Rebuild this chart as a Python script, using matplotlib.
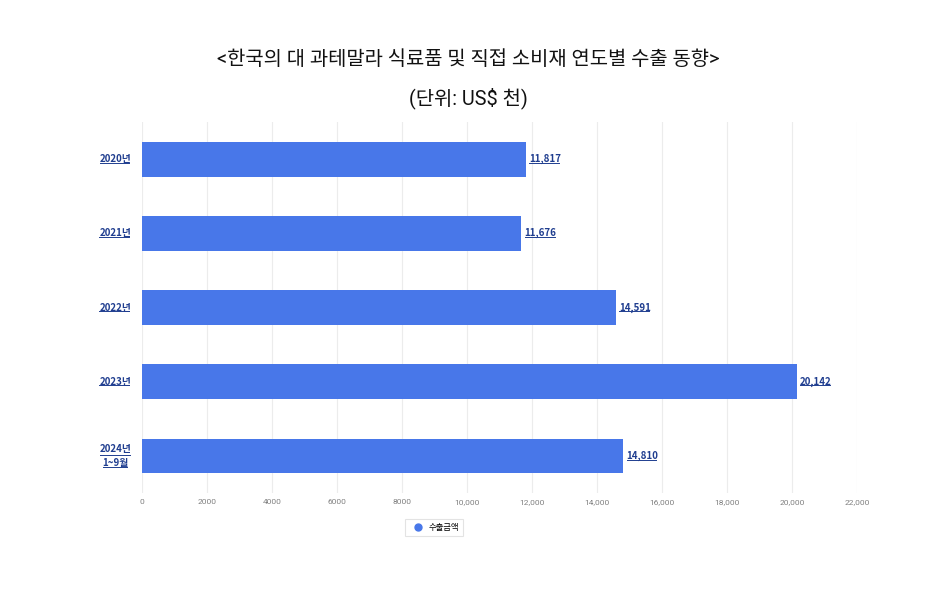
import numpy as np
import matplotlib
matplotlib.use('Agg')
import matplotlib.pyplot as plt
from matplotlib.lines import Line2D
from matplotlib.ticker import FuncFormatter

plt.rcParams['font.family'] = ['Noto Sans CJK KR', 'DejaVu Sans']

years = ['2020년', '2021년', '2022년', '2023년', '2024년\n1~9월']
exports = [11817, 11676, 14591, 20142, 14810]
ticks = np.arange(0, 22001, 2000)

bar_color = '#4877e9'
label_color = '#1f3d8f'

fig = plt.figure(figsize=(9.36, 5.92), dpi=100)
ax = fig.add_axes([0.1517, 0.167, 0.7639, 0.627])

y = np.arange(len(years))
bars = ax.barh(y, exports, height=0.47, color=bar_color, zorder=3, label='수출금액')

ax.set_xlim(0, 22000)
ax.set_ylim(len(years) - 0.5, -0.5)
ax.set_xticks(ticks)
ax.xaxis.set_major_formatter(FuncFormatter(lambda v, p: f'{int(v):,}' if v >= 10000 else f'{int(v)}'))
ax.tick_params(axis='x', length=0, labelsize=6, colors='#808080', pad=4)
for lab in ax.get_xticklabels():
    lab.set_family('Roboto')
ax.tick_params(axis='y', length=0)
ax.set_yticks(y)
ax.set_yticklabels([])
ax.grid(axis='x', color='#ececec', linewidth=0.8, zorder=0)
for s in ax.spines.values():
    s.set_visible(False)

texts = []
for yi, lab in zip(y, years):
    t = ax.text(-0.015, yi, lab, transform=ax.get_yaxis_transform(), ha='right', va='center',
                fontsize=7, fontweight='bold', color=label_color, multialignment='center',
                linespacing=1.6)
    texts.append(t)
for b, v in zip(bars, exports):
    t = ax.text(b.get_width() + 100, b.get_y() + b.get_height() / 2, f'{v:,}',
                ha='left', va='center', fontsize=7, fontweight='bold', color=label_color)
    texts.append(t)

fig.text(0.5, 0.899, '<한국의 대 과테말라 식료품 및 직접 소비재 연도별 수출 동향>',
         ha='center', va='center', fontsize=14.3, color='#111111',
         family=['Roboto', 'Noto Sans CJK KR'])
fig.text(0.5, 0.834, '(단위: US$ 천)', ha='center', va='center', fontsize=14.3, color='#111111',
         family=['Roboto', 'Noto Sans CJK KR'])

leg = ax.legend(handles=[Line2D([], [], marker='o', linestyle='none', color=bar_color,
                                markersize=5, label='수출금액')],
                loc='center', bbox_to_anchor=(0.4085, -0.092), fontsize=6,
                frameon=True, handletextpad=0.3, borderpad=0.5, fancybox=False)
leg.get_frame().set_edgecolor('#dddddd')
leg.get_frame().set_linewidth(0.8)

# underline the link-style labels
fig.canvas.draw()
r = fig.canvas.get_renderer()
inv = fig.transFigure.inverted()
for t in texts:
    lines = t.get_text().split('\n')
    bb = t.get_window_extent(r)
    n = len(lines)
    lh = bb.height / n
    for i in range(n):
        yb = bb.y1 - (i + 1) * lh + 1.5
        w = (bb.width - 2) * len(lines[i]) / max(len(l) for l in lines)
        if n > 1:
            xc = (bb.x0 + bb.x1) / 2
            x0, x1 = xc - w / 2, xc + w / 2
        else:
            x0, x1 = bb.x0, bb.x1 - 2
        p0 = inv.transform((x0, yb))
        p1 = inv.transform((x1, yb))
        fig.add_artist(Line2D([p0[0], p1[0]], [p0[1], p1[1]], color=label_color, linewidth=0.7))

fig.savefig('out.png', dpi=100)
